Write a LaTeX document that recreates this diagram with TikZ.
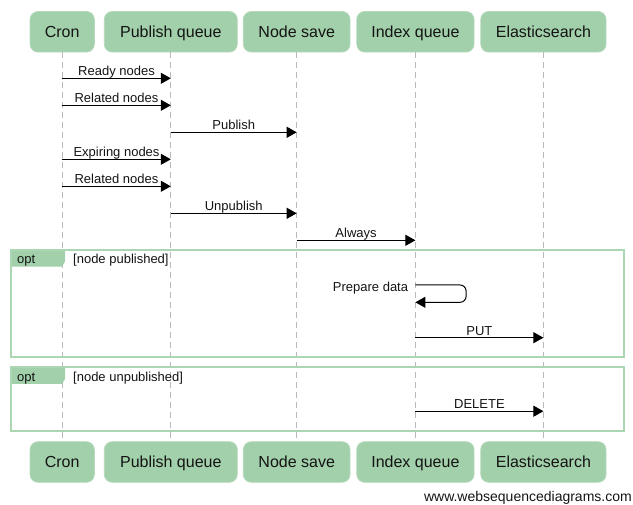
\documentclass[tikz,border=0pt]{standalone}
\usepackage{fontspec}
\setmainfont{Liberation Sans}
\usetikzlibrary{arrows.meta}
\definecolor{boxgreen}{RGB}{162,208,170}
\definecolor{framegreen}{RGB}{170,215,178}
\definecolor{lifegray}{RGB}{185,185,185}
\definecolor{txt}{RGB}{20,20,20}
\tikzset{
  actor/.style={draw=boxgreen!80!white, line width=0.8pt, fill=boxgreen, rounded corners=8pt,
    minimum height=40.6pt, inner sep=0pt, text height=11.5pt, text depth=0pt,
    text=txt, font=\fontsize{16}{19}\selectfont},
  lifeline/.style={draw=lifegray, line width=1pt, dash pattern=on 6pt off 4pt},
  msg/.style={draw=black, line width=1pt, -{Triangle[length=10pt,width=11pt]}},
  lbl/.style={anchor=base, inner sep=0pt, text=txt, font=\fontsize{13}{15}\selectfont},
  frame/.style={draw=framegreen, line width=2pt},
  tab/.style={fill=boxgreen},
  foot/.style={anchor=base east, inner sep=0pt, text=txt, font=\fontsize{14}{16}\selectfont}
}
\begin{document}
\begin{tikzpicture}[x=1pt,y=-1pt]
\useasboundingbox (0,0) rectangle (633,505);
% actors top
\node[actor, minimum width=64.3pt] (cronT) at (62.2,31.8) {Cron};
\node[actor, minimum width=133pt] (pubT) at (170.8,31.8) {Publish queue};
\node[actor, minimum width=106.7pt] (saveT) at (296.7,31.8) {Node save};
\node[actor, minimum width=117.3pt] (idxT) at (415.4,31.8) {Index queue};
\node[actor, minimum width=125.3pt] (esT) at (543.4,31.8) {Elasticsearch};
% actors bottom
\node[actor, minimum width=64.3pt] (cronB) at (62.2,462) {Cron};
\node[actor, minimum width=133pt] (pubB) at (170.8,462) {Publish queue};
\node[actor, minimum width=106.7pt] (saveB) at (296.7,462) {Node save};
\node[actor, minimum width=117.3pt] (idxB) at (415.4,462) {Index queue};
\node[actor, minimum width=125.3pt] (esB) at (543.4,462) {Elasticsearch};
% lifelines
\draw[lifeline] (cronT.south) -- (cronB.north);
\draw[lifeline] (pubT.south) -- (pubB.north);
\draw[lifeline] (saveT.south) -- (saveB.north);
\draw[lifeline] (idxT.south) -- (idxB.north);
\draw[lifeline] (esT.south) -- (esB.north);
% frames
\fill[tab] (11,250) -- (65,250) -- (65,261.5) -- (62,266.7) -- (11,266.7) -- cycle;
\draw[frame] (11,250) rectangle (624,357.3);
\node[lbl, anchor=base west] (opt1) at (17,264) {opt};
\node[lbl, anchor=base west] (cond1) at (73,264) {[node published]};
\fill[tab] (11,367.5) -- (65,367.5) -- (65,379) -- (62,384) -- (11,384) -- cycle;
\draw[frame] (11,367.5) rectangle (624,431.5);
\node[lbl, anchor=base west] (opt2) at (17,381.5) {opt};
\node[lbl, anchor=base west] (cond2) at (73,381.5) {[node unpublished]};
% message points
\coordinate (c1) at (cronT.south |- 0,78.3);   \coordinate (p1) at (pubT.south |- 0,78.3);
\coordinate (c2) at (cronT.south |- 0,105.3);  \coordinate (p2) at (pubT.south |- 0,105.3);
\coordinate (p3) at (pubT.south |- 0,132.3);   \coordinate (s3) at (saveT.south |- 0,132.3);
\coordinate (c4) at (cronT.south |- 0,159.3);  \coordinate (p4) at (pubT.south |- 0,159.3);
\coordinate (c5) at (cronT.south |- 0,186.3);  \coordinate (p5) at (pubT.south |- 0,186.3);
\coordinate (p6) at (pubT.south |- 0,213.3);   \coordinate (s6) at (saveT.south |- 0,213.3);
\coordinate (s7) at (saveT.south |- 0,240.3);  \coordinate (i7) at (idxT.south |- 0,240.3);
\coordinate (i8) at (idxT.south |- 0,285);     \coordinate (i8b) at (idxT.south |- 0,302.3);
\coordinate (i9) at (idxT.south |- 0,337.7);   \coordinate (e9) at (esT.south |- 0,337.7);
\coordinate (i10) at (idxT.south |- 0,411.2);  \coordinate (e10) at (esT.south |- 0,411.2);
% messages
\draw[msg] (c1) -- node[lbl, pos=0.5, yshift=2.6pt] {Ready nodes} (p1);
\draw[msg] (c2) -- node[lbl, pos=0.5, yshift=2.6pt] {Related nodes} (p2);
\draw[msg] (p3) -- node[lbl, pos=0.5, yshift=2.6pt] {Publish} (s3);
\draw[msg] (c4) -- node[lbl, pos=0.5, yshift=2.6pt] {Expiring nodes} (p4);
\draw[msg] (c5) -- node[lbl, pos=0.5, yshift=2.6pt] {Related nodes} (p5);
\draw[msg] (p6) -- node[lbl, pos=0.5, yshift=2.6pt] {Unpublish} (s6);
\draw[msg] (s7) -- node[lbl, pos=0.5, yshift=2.6pt] {Always} (i7);
\draw[msg, rounded corners=6pt] (i8) -- ++(50.7,0) -- ++(0,17.3) -- (i8b);
\node[lbl, anchor=base east] (prep) at (408.3,291.5) {Prepare data};
\draw[msg] (i9) -- node[lbl, pos=0.5, yshift=2.6pt] {PUT} (e9);
\draw[msg] (i10) -- node[lbl, pos=0.5, yshift=2.6pt] {DELETE} (e10);
% footer
\node[foot] (footer) at (632,501.5) {www.websequencediagrams.com};
\end{tikzpicture}
\end{document}
